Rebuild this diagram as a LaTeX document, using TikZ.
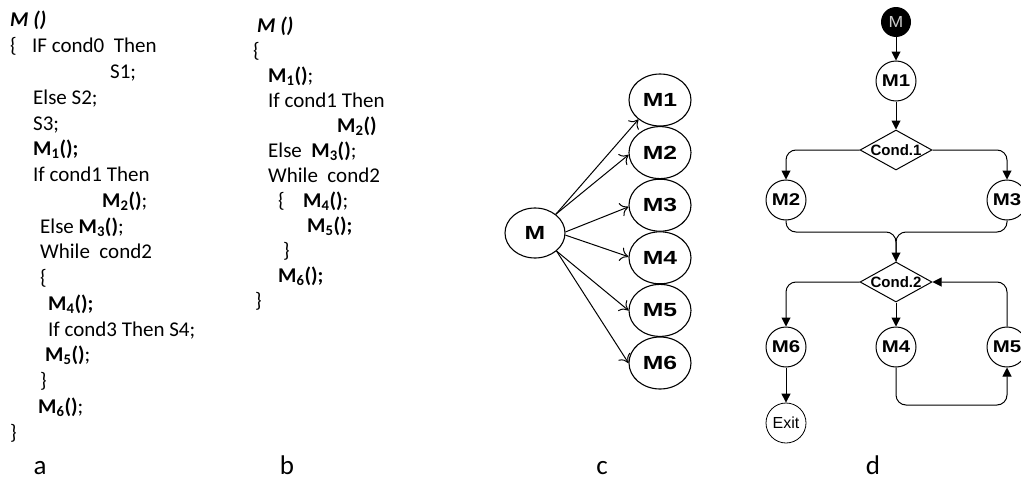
\documentclass[tikz,border=0pt]{standalone}
\usepackage{fontspec}
\setmainfont{Carlito}
\newfontfamily\arialf{Liberation Sans}
\usetikzlibrary{arrows.meta,shapes.geometric}
\newcommand{\msub}[1]{\textsubscript{#1}}
\newcommand{\wide}[2]{\scalebox{#1}[1]{#2}}

\begin{document}
\begin{tikzpicture}[x=1pt,y=-1pt,
  code/.style={anchor=base west, inner sep=0pt, font=\fontsize{21}{25}\selectfont},
  panel/.style={anchor=base, inner sep=0pt, font=\fontsize{27}{30}\selectfont},
  ell/.style={ellipse, draw, line width=1.1pt, minimum width=62pt, minimum height=52pt,
              inner sep=0pt, font=\arialf\bfseries\fontsize{19}{19}\selectfont},
  carr/.style={-{Computer Modern Rightarrow[length=8pt,width=14pt]}, line width=1pt},
  circ/.style={circle, draw, line width=1pt, minimum size=40pt, inner sep=0pt,
               font=\arialf\bfseries\fontsize{17}{17}\selectfont},
  dia/.style={diamond, draw, line width=1pt, minimum width=72pt, minimum height=40pt, inner sep=0pt},
  dtext/.style={font=\arialf\bfseries\fontsize{15}{15}\selectfont},
  darr/.style={-{Triangle[length=9pt,width=9pt]}, line width=1pt},
  dline/.style={line width=1pt, rounded corners=10pt}]

\clip (0,0) rectangle (1021,479);
\fill[white] (0,0) rectangle (1021,479);

% ---- (a) source of M with statements ----
\node[code] (a1)  at (10,27)  {\textbf{\textit{M ()}}};
\node[code] (a2)  at (10,52)  {\{};
\node[code] (a2b) at (32,52)  {IF cond0\ \ Then};
\node[code] (a3)  at (110,78) {S1;};
\node[code] (a4)  at (33,104) {Else S2;};
\node[code] (a5)  at (33,130) {S3;};
\node[code] (a6)  at (33,155) {\textbf{M\msub{1}();}};
\node[code] (a7)  at (33,181) {If cond1 Then};
\node[code] (a8)  at (102,207) {\textbf{M\msub{2}()};};
\node[code] (a9)  at (40,233) {Else \textbf{M\msub{3}()};};
\node[code] (a10) at (40,258) {While\ \ cond2};
\node[code] (a11) at (40,284) {\{};
\node[code] (a12) at (48,310) {\textbf{M\msub{4}();}};
\node[code] (a13) at (48,336) {If cond3 Then S4;};
\node[code] (a14) at (45,361) {\textbf{M\msub{5}()};};
\node[code] (a15) at (40,387) {\}};
\node[code] (a16) at (38,413) {\textbf{M\msub{6}()};};
\node[code] (a17) at (10,439) {\}};
\node[panel] (la) at (40,474) {a};

% ---- (b) reduced source with calls only ----
\node[code] (b1)  at (257,32)  {\textbf{\textit{M ()}}};
\node[code] (b2)  at (253,57)  {\{};
\node[code] (b3)  at (268,82)  {\textbf{M\msub{1}()};};
\node[code] (b4)  at (268,107) {If cond1 Then};
\node[code] (b5)  at (337,132) {\textbf{M\msub{2}()}};
\node[code] (b6)  at (268,157) {Else\ \ \textbf{M\msub{3}()};};
\node[code] (b7)  at (268,182) {While\ \ cond2};
\node[code] (b8)  at (278,207) {\{};
\node[code] (b8b) at (303,207) {\textbf{M\msub{4}()};};
\node[code] (b9)  at (307,232) {\textbf{M\msub{5}();}};
\node[code] (b10) at (283,257) {\}};
\node[code] (b11) at (278,282) {\textbf{M\msub{6}();}};
\node[code] (b12) at (255,307) {\}};
\node[panel] (lb) at (287,474) {b};

% ---- (c) call graph ----
\node[ell, minimum width=60pt, minimum height=50pt] (cM) at (535,233) {\wide{1.3}{M}};
\foreach \i in {1,...,6}{
  \node[ell] (c\i) at (660,{100+52.6*(\i-1)}) {\wide{1.3}{M\i}};
}
\draw[carr] (cM.42)  -- (c1.222);
\draw[carr] (cM.42)  -- (c2.184);
\draw[carr] (cM.2)   -- (c3.183);
\draw[carr] (cM.-4)  -- (c4.178);
\draw[carr] (cM.-40) -- (c5.west);
\draw[carr] (cM.-40) -- (c6.west);
\node[panel] (lc) at (602,474) {c};

% ---- (d) control flow of calls ----
\node[circle, fill=black, minimum size=30pt, inner sep=0pt,
      font=\arialf\fontsize{16}{16}\selectfont, text=black!20] (dM) at (896,22) {\wide{1.1}{M}};
\node[circ] (d1) at (896,81) {\wide{1.2}{M1}};
\node[dia, label={[dtext]center:Cond.1}] (k1) at (896,150) {};
\node[circ] (d2) at (786,200) {\wide{1.2}{M2}};
\node[circ] (d3) at (1007,200) {\wide{1.2}{M3}};
\coordinate (j) at (896,232);
\node[dia, label={[dtext]center:Cond.2}] (k2) at (896,282) {};
\node[circ] (d6) at (786,347) {\wide{1.2}{M6}};
\node[circ] (d4) at (896,347) {\wide{1.2}{M4}};
\node[circ] (d5) at (1007,347) {\wide{1.2}{M5}};
\coordinate (lp) at (896,405);
\node[circle, draw, line width=0.8pt, minimum size=40pt, inner sep=0pt,
      font=\arialf\fontsize{16}{16}\selectfont] (ex) at (786,423) {Exit};

\draw[darr] (dM) -- (d1);
\draw[darr] (d1) -- (k1);
\draw[darr, dline] (k1.west) -| (d2.north);
\draw[darr, dline] (k1.east) -| (d3.north);
\draw[dline] (d2.south) |- (j) -- (k2.north);
\draw[darr, dline] (d3.south) |- (j) -- (k2.north);
\draw[darr, dline] (k2.west) -| (d6.north);
\draw[darr] (k2.south) -- (d4.north);
\draw[darr, dline] (d4.south) -- (lp) -| (d5.south);
\draw[darr, dline] (d5.north) |- (k2.east);
\draw[darr] (d6) -- (ex);
\node[panel] (ld) at (873,474) {d};

\end{tikzpicture}
\end{document}
